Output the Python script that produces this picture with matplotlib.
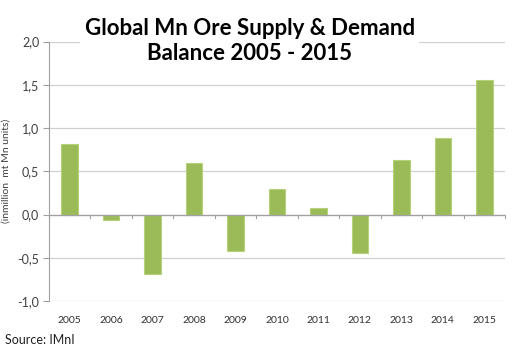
import matplotlib.pyplot as plt
import numpy as np

years = ["2005", "2006", "2007", "2008", "2009", "2010",
         "2011", "2012", "2013", "2014", "2015"]
balance = [0.81, -0.065, -0.69, 0.60, -0.42, 0.29, 0.07, -0.45, 0.63, 0.885, 1.55]
y_ticks = [-1.0, -0.5, 0.0, 0.5, 1.0, 1.5, 2.0]
y_labels = ["-1,0", "-0,5", "0,0", "0,5", "1,0", "1,5", "2,0"]

plt.rcParams["font.family"] = ["Lato", "DejaVu Sans"]

fig = plt.figure(figsize=(5.28, 3.53), dpi=100)
ax = fig.add_axes([0.0928, 0.1473, 0.8636, 0.7351])

x = np.arange(len(years))
ax.bar(x, balance, width=0.4, color="#9BBB59", edgecolor="#B5D27A", linewidth=0.8, zorder=3)

ax.set_xlim(-0.5, len(years) - 0.5)
ax.set_ylim(-1.0, 2.0)
ax.set_yticks(y_ticks)
ax.set_yticklabels(y_labels, fontsize=9, color="#404040")
ax.set_xticks(x)
ax.set_xticklabels(years, fontsize=7.5, color="#303030")
ax.tick_params(axis="x", length=0, pad=11)
ax.tick_params(axis="y", length=4, color="#A0A0A0", pad=3)

# category boundary tick marks on the zero line
for b in np.arange(-0.5, len(years), 1.0):
    ax.plot([b, b], [0, -0.035], color="#A0A0A0", lw=0.8, zorder=4, clip_on=False)

ax.grid(axis="y", color="#D0D0D0", lw=0.9, zorder=0)
ax.axhline(0, color="#A0A0A0", lw=0.9, zorder=4)
for s in ["top", "right", "bottom"]:
    ax.spines[s].set_visible(False)
ax.spines["left"].set_color("#A0A0A0")

ax.set_ylabel("(inmillion  mt Mn units)", fontsize=7.5, color="#404040", labelpad=5)

fig.text(0.473, 0.82, "Global Mn Ore Supply & Demand\nBalance 2005 - 2015",
         ha="center", va="bottom", fontsize=16, fontweight="bold", linespacing=1.2,
         bbox=dict(facecolor="white", edgecolor="none", pad=3))
fig.text(0.01, 0.025, "Source: IMnI", fontsize=9, color="#202020")

fig.savefig("out.png", dpi=100)
